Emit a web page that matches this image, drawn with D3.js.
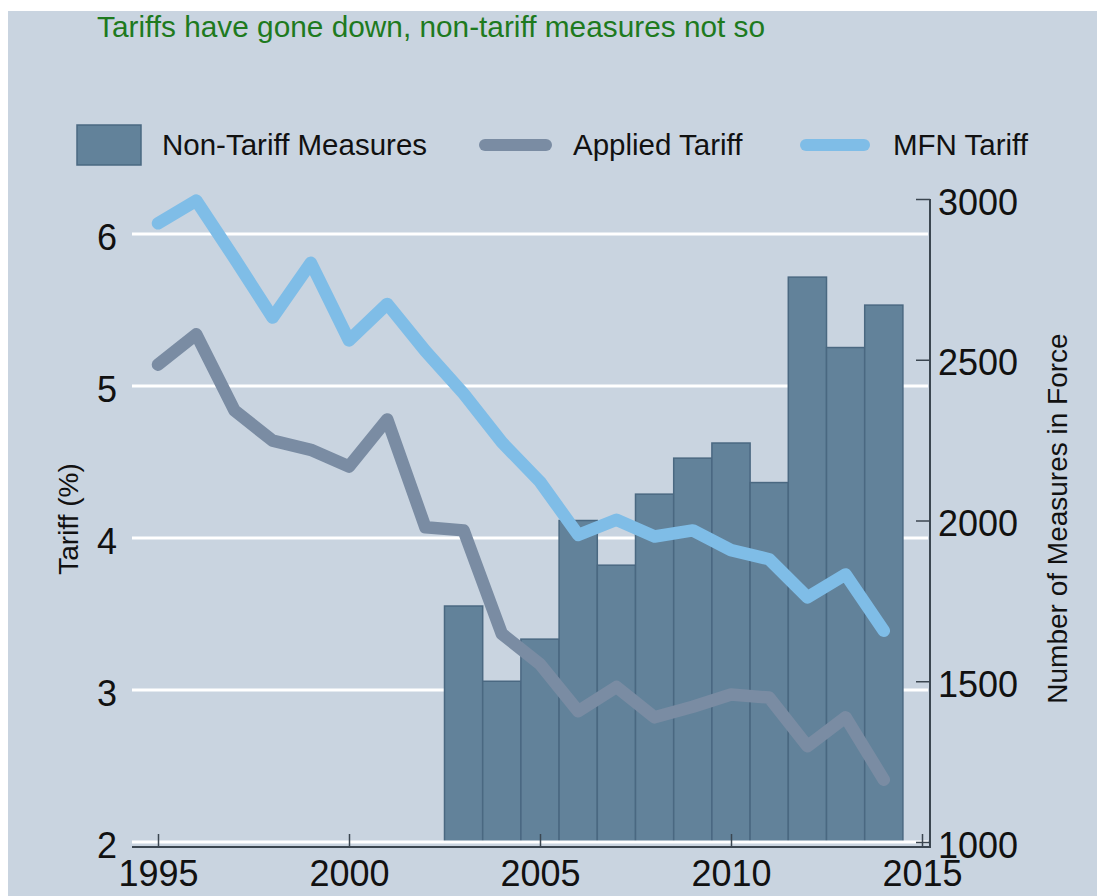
<!DOCTYPE html>
<html>
<head>
<meta charset="utf-8">
<script src="https://cdn.jsdelivr.net/npm/d3@7/dist/d3.min.js"></script>
<style>
  html, body { margin: 0; padding: 0; background: #ffffff; }
  svg { display: block; }
  text { font-family: "Liberation Sans", Arial, Helvetica, sans-serif; }
</style>
</head>
<body>
<svg id="chart" width="1097" height="896"></svg>
<script>
// Years shown on the horizontal axis
const years = d3.range(1995, 2015);
const xTickYears = [1995, 2000, 2005, 2010, 2015];

// Simple-average tariffs (%), 1995-2014
const mfnTariff = [6.07, 6.22, 5.84, 5.45, 5.81, 5.30, 5.54, 5.23, 4.95, 4.63,
                   4.37, 4.02, 4.12, 4.01, 4.05, 3.92, 3.86, 3.61, 3.76, 3.39];
const appliedTariff = [5.14, 5.34, 4.84, 4.64, 4.58, 4.47, 4.78, 4.07, 4.05, 3.37,
                       3.17, 2.86, 3.02, 2.82, 2.89, 2.97, 2.95, 2.63, 2.82, 2.41];

// Non-tariff measures in force, 2003-2014
const ntmYears = d3.range(2003, 2015);
const ntmCount = [1734, 1500, 1631, 2000, 1861, 2082, 2194, 2241, 2118, 2757, 2538, 2670];

// Axis ticks
const tariffTicks = [2, 3, 4, 5, 6];
const countTicks = [1000, 1500, 2000, 2500, 3000];

// Labels
const titleText = "Tariffs have gone down, non-tariff measures not so";
const legendLabels = ["Non-Tariff Measures", "Applied Tariff", "MFN Tariff"];
const leftAxisTitle = "Tariff (%)";
const rightAxisTitle = "Number of Measures in Force";

const colors = {
  bg: "#c9d4e0",
  grid: "#ffffff",
  bar: "#62829a",
  barEdge: "#4a6881",
  applied: "#7a8ca3",
  mfn: "#7fbde7",
  axis: "#3b4650",
  title: "#1e7a1e",
  text: "#111111"
};

const svg = d3.select("#chart");

// Panel background
svg.append("rect")
  .attr("x", 8).attr("y", 11)
  .attr("width", 1097 - 8).attr("height", 896 - 11)
  .attr("fill", colors.bg);

// Scales
const plotLeft = 132, plotRight = 928, plotTop = 199, plotBottom = 842;
const x = d3.scaleLinear().domain([1995, 2015]).range([158, 922]);
const yL = d3.scaleLinear().domain([2, 6.23]).range([plotBottom, plotTop]);
const yR = d3.scaleLinear().domain([1000, 3000]).range([plotBottom, plotTop]);

// Title
svg.append("text")
  .attr("x", 97).attr("y", 37)
  .attr("font-size", 29.8)
  .attr("fill", colors.title)
  .text(titleText);

// Horizontal grid lines at the tariff ticks (the baseline is drawn later, above the bars)
svg.append("g")
  .selectAll("line")
  .data(tariffTicks.filter(d => d > 2))
  .join("line")
  .attr("x1", plotLeft).attr("x2", plotRight)
  .attr("y1", d => yL(d)).attr("y2", d => yL(d))
  .attr("stroke", colors.grid)
  .attr("stroke-width", 3);

// Bars: non-tariff measures (right axis)
const halfW = (x(1) - x(0)) / 2;
svg.append("g")
  .selectAll("rect")
  .data(ntmYears.map((yr, i) => ({ yr, v: ntmCount[i] })))
  .join("rect")
  .attr("x", d => x(d.yr) - halfW)
  .attr("width", halfW * 2)
  .attr("y", d => yR(d.v))
  .attr("height", d => yR(1000) - yR(d.v))
  .attr("fill", colors.bar)
  .attr("stroke", colors.barEdge)
  .attr("stroke-width", 1.5);

// Baseline grid line
svg.append("line")
  .attr("x1", plotLeft).attr("x2", plotRight)
  .attr("y1", yL(2)).attr("y2", yL(2))
  .attr("stroke", colors.grid)
  .attr("stroke-width", 3);

// Tariff lines (left axis)
const line = d3.line()
  .x((d, i) => x(years[i]))
  .y(d => yL(d));

svg.append("path")
  .datum(appliedTariff)
  .attr("d", line)
  .attr("fill", "none")
  .attr("stroke", colors.applied)
  .attr("stroke-width", 12.5)
  .attr("stroke-linejoin", "round")
  .attr("stroke-linecap", "round");

svg.append("path")
  .datum(mfnTariff)
  .attr("d", line)
  .attr("fill", "none")
  .attr("stroke", colors.mfn)
  .attr("stroke-width", 12.5)
  .attr("stroke-linejoin", "round")
  .attr("stroke-linecap", "round");

// Left axis: labels only
const leftAxis = svg.append("g")
  .attr("transform", `translate(${plotLeft},0)`)
  .call(d3.axisLeft(yL).tickValues(tariffTicks).tickSize(0).tickPadding(15).tickFormat(d3.format("d")));
leftAxis.select(".domain").remove();
leftAxis.selectAll("text")
  .attr("font-size", 36)
  .attr("font-family", null)
  .attr("fill", colors.text)
  .attr("dy", "0.42em");

// Bottom axis with inward ticks
const axisY = 847;
svg.append("line")
  .attr("x1", plotLeft).attr("x2", 930)
  .attr("y1", axisY).attr("y2", axisY)
  .attr("stroke", colors.axis)
  .attr("stroke-width", 2);
const bottomAxis = svg.append("g")
  .attr("transform", `translate(0,${axisY})`)
  .call(d3.axisBottom(x).tickValues(xTickYears).tickSize(-13).tickFormat(d3.format("d")));
bottomAxis.select(".domain").remove();
bottomAxis.selectAll(".tick line").attr("stroke", colors.axis).attr("stroke-width", 1.5);
bottomAxis.selectAll("text")
  .attr("font-size", 36)
  .attr("font-family", null)
  .attr("fill", colors.text)
  .attr("y", 39)
  .attr("dy", 0);

// Right axis with inward ticks
const rightX = 930;
const rightAxis = svg.append("g")
  .attr("transform", `translate(${rightX},0)`)
  .call(d3.axisRight(yR).tickValues(countTicks).tickSize(-14).tickPadding(8).tickFormat(d3.format("d")));
rightAxis.select(".domain").remove();
rightAxis.selectAll(".tick line").attr("stroke", colors.axis).attr("stroke-width", 1.5);
rightAxis.selectAll("text")
  .attr("font-size", 36)
  .attr("font-family", null)
  .attr("fill", colors.text)
  .attr("dy", "0.42em");
svg.append("line")
  .attr("x1", rightX).attr("x2", rightX)
  .attr("y1", yR(3000)).attr("y2", axisY + 1)
  .attr("stroke", colors.axis)
  .attr("stroke-width", 2);

// Axis titles
svg.append("text")
  .attr("transform", `translate(78,${(yL(2) + yL(6.23)) / 2 - 1.5}) rotate(-90)`)
  .attr("text-anchor", "middle")
  .attr("font-size", 28)
  .attr("fill", colors.text)
  .text(leftAxisTitle);

svg.append("text")
  .attr("transform", `translate(1067,${(yR(1000) + yR(3000)) / 2 - 2}) rotate(-90)`)
  .attr("text-anchor", "middle")
  .attr("font-size", 28)
  .attr("fill", colors.text)
  .text(rightAxisTitle);

// Legend
const legend = svg.append("g");
legend.append("rect")
  .attr("x", 77).attr("y", 125).attr("width", 64).attr("height", 40)
  .attr("fill", colors.bar)
  .attr("stroke", colors.barEdge)
  .attr("stroke-width", 1.5);
legend.append("line")
  .attr("x1", 485).attr("x2", 546).attr("y1", 145).attr("y2", 145)
  .attr("stroke", colors.applied).attr("stroke-width", 12).attr("stroke-linecap", "round");
legend.append("line")
  .attr("x1", 806).attr("x2", 864).attr("y1", 145).attr("y2", 145)
  .attr("stroke", colors.mfn).attr("stroke-width", 12).attr("stroke-linecap", "round");
legend.selectAll("text.lbl")
  .data(legendLabels.map((t, i) => ({ t, x: [162, 573, 893][i] })))
  .join("text")
  .attr("class", "lbl")
  .attr("x", d => d.x).attr("y", 155)
  .attr("font-size", 29.5)
  .attr("fill", colors.text)
  .text(d => d.t);
</script>
</body>
</html>
